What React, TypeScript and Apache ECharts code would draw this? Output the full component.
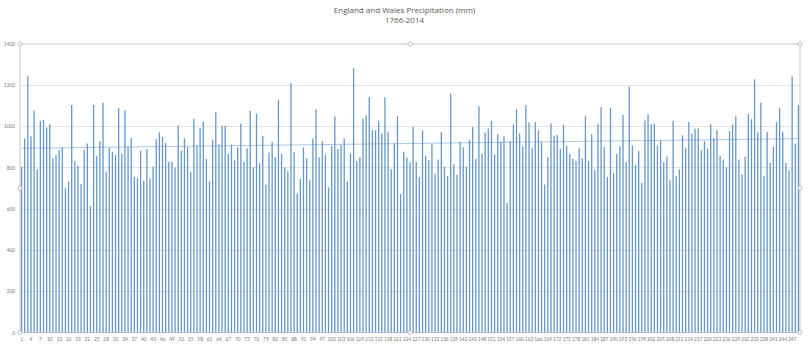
import React, { useEffect, useRef } from "react";
import * as echarts from "echarts";

const TITLE = "England and Wales Precipitation (mm)";
const SUBTITLE = "1766-2014";

const values1766_1815 = [
  805, 941, 1245, 952, 1077, 792, 1027, 1032, 994, 1011,
  845, 861, 886, 899, 701, 733, 1104, 832, 810, 720,
  886, 917, 613, 1104, 858, 928, 1115, 778, 896, 877,
  861, 1088, 869, 1077, 901, 944, 755, 749, 882, 736,
  891, 747, 806, 939, 971, 949, 920, 829, 829, 800,
];
const values1816_1865 = [
  1005, 882, 942, 901, 778, 1037, 909, 992, 1024, 842,
  733, 934, 1069, 912, 1003, 1002, 866, 912, 835, 899,
  1013, 829, 893, 1075, 802, 1062, 821, 954, 717, 874,
  925, 850, 1128, 867, 802, 782, 1210, 875, 675, 746,
  899, 845, 739, 941, 1082, 850, 928, 864, 704, 906,
];
const values1866_1915 = [
  1048, 890, 910, 942, 733, 869, 1282, 832, 851, 1037,
  1053, 1142, 982, 981, 1027, 966, 1142, 973, 792, 917,
  1050, 672, 877, 848, 826, 997, 829, 755, 981, 856,
  837, 915, 770, 840, 973, 806, 760, 1160, 816, 765,
  926, 899, 806, 933, 997, 842, 1098, 867, 971, 990,
];
const values1916_1965 = [
  1027, 864, 962, 925, 952, 629, 928, 1009, 1082, 966,
  904, 1104, 1019, 894, 1022, 981, 922, 718, 850, 1014,
  955, 958, 891, 1008, 907, 867, 842, 832, 894, 846,
  1050, 832, 962, 789, 1013, 1093, 901, 755, 1091, 774,
  866, 904, 1056, 829, 1192, 907, 813, 880, 726, 1029,
];
const values1966_2014 = [
  1059, 1010, 1014, 906, 931, 826, 854, 739, 1027, 758,
  792, 957, 896, 1021, 965, 990, 990, 883, 928, 893,
  1010, 944, 981, 858, 840, 802, 978, 1011, 1048, 840,
  768, 853, 1061, 1035, 1229, 971, 1115, 760, 973, 824,
  902, 1021, 1090, 974, 822, 787, 1242, 917, 1104,
];

const precipitation = [
  ...values1766_1815,
  ...values1816_1865,
  ...values1866_1915,
  ...values1916_1965,
  ...values1966_2014,
];
const categories = precipitation.map((_, i) => String(i + 1));

function linearTrend(ys: number[]): number[] {
  const n = ys.length;
  let sx = 0, sy = 0, sxx = 0, sxy = 0;
  ys.forEach((y, i) => {
    const x = i + 1;
    sx += x; sy += y; sxx += x * x; sxy += x * y;
  });
  const b = (n * sxy - sx * sy) / (n * sxx - sx * sx);
  const a = (sy - b * sx) / n;
  return ys.map((_, i) => +(a + b * (i + 1)).toFixed(2));
}

export default function App() {
  const ref = useRef<HTMLDivElement>(null);
  useEffect(() => {
    if (!ref.current) return;
    const chart = echarts.init(ref.current, null, { renderer: "svg" });
    const font = 'Calibri, Carlito, "Liberation Sans Narrow", "Liberation Sans", Arial, sans-serif';
    const gl = 20, gr = 800, gt = 44, gb = 332.5;
    const gm = (gl + gr) / 2, vm = (gt + gb) / 2;
    const handles = [
      [gl, gt], [gm, gt], [gr, gt],
      [gl, vm], [gr, vm],
      [gl, gb], [gm, gb], [gr, gb],
    ].map(([x, y]) => ({
      type: "circle",
      shape: { cx: x, cy: y, r: 2 },
      style: { fill: "#ffffff", stroke: "#a6a6a6", lineWidth: 0.8 },
      z: 100,
    }));
    chart.setOption({
      animation: false,
      backgroundColor: "#ffffff",
      textStyle: { fontFamily: font },
      title: {
        text: TITLE,
        subtext: SUBTITLE,
        left: "center",
        top: 0,
        itemGap: 2,
        textStyle: { fontSize: 8, fontWeight: "normal", color: "#595959", fontFamily: '"Open Sans", "Liberation Sans", sans-serif' },
        subtextStyle: { fontSize: 8, color: "#595959", fontFamily: '"Open Sans", "Liberation Sans", sans-serif' },
      },
      grid: {
        left: gl,
        right: 809 - gr,
        top: gt,
        bottom: 347 - gb,
        show: true,
        borderColor: "#c6c6c6",
        borderWidth: 1,
      },
      xAxis: {
        type: "category",
        data: categories,
        axisLine: { show: true, lineStyle: { color: "#c6c6c6" } },
        axisTick: { show: false },
        axisLabel: {
          interval: 2,
          fontSize: 5.5,
          color: "#7f7f7f",
          margin: 3,
          hideOverlap: false,
          fontFamily: font,
        },
      },
      yAxis: {
        type: "value",
        min: 0,
        max: 1400,
        interval: 200,
        axisLine: { show: false },
        axisTick: { show: false },
        splitLine: { lineStyle: { color: "#e3e3e3", width: 1 } },
        axisLabel: {
          fontSize: 5.5,
          color: "#7f7f7f",
          margin: 5,
          fontFamily: font,
          formatter: (v: number) => String(v),
        },
      },
      series: [
        {
          type: "bar",
          data: precipitation,
          barWidth: 1.3,
          itemStyle: { color: "#6697c8" },
        },
        {
          type: "line",
          data: linearTrend(precipitation),
          symbol: "none",
          silent: true,
          lineStyle: { type: "dotted", color: "#5b8fc4", width: 1 },
          z: 5,
        },
      ],
      graphic: handles,
    });
    return () => chart.dispose();
  }, []);
  return (
    <div
      ref={ref}
      style={{ position: "fixed", left: 0, top: 0, width: 809, height: 347 }}
    />
  );
}
